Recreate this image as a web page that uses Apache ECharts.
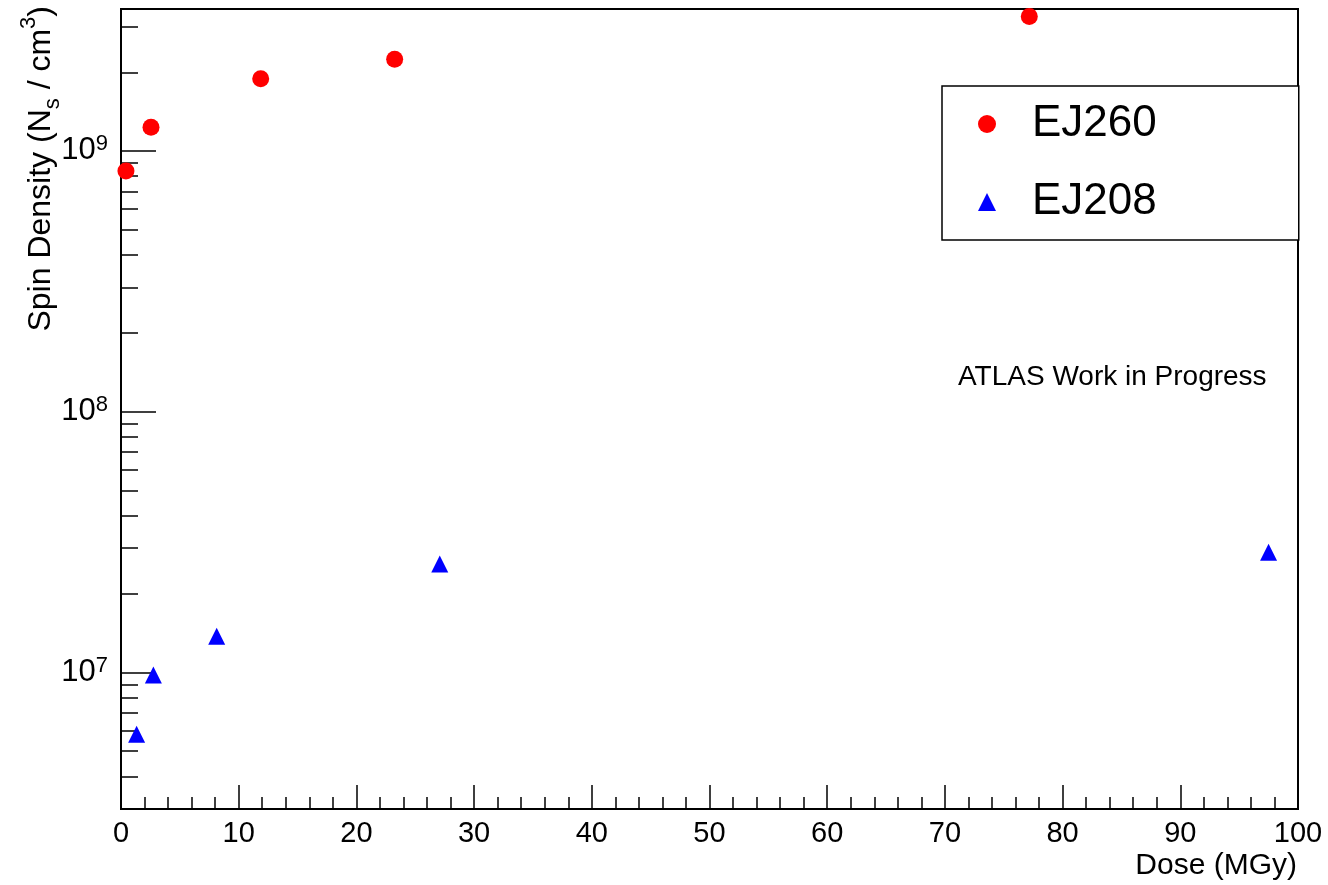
<!DOCTYPE html>
<html><head><meta charset="utf-8">
<script src="https://cdn.jsdelivr.net/npm/echarts@6/dist/echarts.min.js"></script>
<style>html,body{margin:0;padding:0;background:#fff}#c{width:1328px;height:885px}</style>
</head><body><div id="c"></div>
<script>
// ---- data ----
const seriesNames = ['EJ260', 'EJ208'];
const ej260Dose = [0.42, 2.55, 11.87, 23.25, 77.17];
const ej260Spin = [8.38e8, 1.233e9, 1.889e9, 2.247e9, 3.275e9];
const ej208Dose = [1.33, 2.75, 8.13, 27.08, 97.5];
const ej208Spin = [5.80e6, 9.80e6, 1.377e7, 2.61e7, 2.896e7];
const xTickLabels = [0, 10, 20, 30, 40, 50, 60, 70, 80, 90, 100];
const yMajorTicks = [1e7, 1e8, 1e9];
const yMinorTicks = [4e6, 5e6, 6e6, 7e6, 8e6, 9e6,
  2e7, 3e7, 4e7, 5e7, 6e7, 7e7, 8e7, 9e7,
  2e8, 3e8, 4e8, 5e8, 6e8, 7e8, 8e8, 9e8,
  2e9, 3e9];
const xTitle = 'Dose (MGy)';
const annotation = 'ATLAS Work in Progress';

const FONT = '"Liberation Sans", Arial, Helvetica, sans-serif';
const chart = echarts.init(document.getElementById('c'), null, {renderer: 'canvas'});

const toPairs = (xs, ys) => xs.map((x, i) => [x, ys[i]]);

chart.setOption({
  animation: false,
  backgroundColor: '#fff',
  textStyle: {fontFamily: FONT},
  grid: {left: 121, right: 30, top: 9, bottom: 76, show: true, borderColor: '#000', borderWidth: 2},
  xAxis: {
    type: 'value', min: xTickLabels[0], max: xTickLabels[xTickLabels.length - 1], interval: 10,
    axisLine: {show: true, onZero: false, lineStyle: {color: '#000', width: 2}},
    axisTick: {show: true, inside: true, length: 24, lineStyle: {color: '#000', width: 1.5}},
    minorTick: {show: true, splitNumber: 5, length: 12, lineStyle: {color: '#000', width: 1.5}},
    splitLine: {show: false},
    axisLabel: {fontSize: 29, color: '#000', margin: 10, fontFamily: FONT, showMinLabel: true, showMaxLabel: true}
  },
  yAxis: [{
    type: 'log', logBase: 10, min: 3e6, max: 3.5e9,
    axisLine: {show: true, onZero: false, lineStyle: {color: '#000', width: 2}},
    axisTick: {show: true, inside: true, length: 35, customValues: yMajorTicks, lineStyle: {color: '#000', width: 1.5}},
    splitLine: {show: false},
    axisLabel: {
      customValues: yMajorTicks, margin: 13, color: '#000',
      formatter: v => '{b|10}{s|' + Math.round(Math.log10(v)) + '}',
      rich: {
        b: {fontSize: 31, lineHeight: 36, fontFamily: FONT, color: '#000', verticalAlign: 'middle'},
        s: {fontSize: 22, lineHeight: 22, fontFamily: FONT, color: '#000', verticalAlign: 'top'}
      }
    }
  }, {
    type: 'log', logBase: 10, min: 3e6, max: 3.5e9, position: 'left',
    axisLine: {show: false},
    axisTick: {show: true, inside: true, length: 17, customValues: yMinorTicks, lineStyle: {color: '#000', width: 1.5}},
    splitLine: {show: false},
    axisLabel: {show: false}
  }],
  legend: {
    orient: 'vertical', left: 942, top: 86,
    padding: [13, 142, 13, 36], itemGap: 28, itemWidth: 18, itemHeight: 18,
    borderColor: '#000', borderWidth: 1.5, backgroundColor: '#fff',
    textStyle: {fontSize: 44, lineHeight: 44, color: '#000', fontFamily: FONT, padding: [6, 0, 0, 31]},
    data: [{name: seriesNames[0], icon: 'circle'}, {name: seriesNames[1], icon: 'triangle'}]
  },
  series: [{
    name: seriesNames[0], type: 'scatter', yAxisIndex: 0, symbol: 'circle', symbolSize: 17,
    itemStyle: {color: '#ff0000', opacity: 1}, data: toPairs(ej260Dose, ej260Spin)
  }, {
    name: seriesNames[1], type: 'scatter', yAxisIndex: 0, symbol: 'triangle', symbolSize: 17,
    itemStyle: {color: '#0000ff', opacity: 1}, data: toPairs(ej208Dose, ej208Spin)
  }],
  graphic: [{
    type: 'text', x: 958, y: 377,
    style: {text: annotation, font: '28px ' + FONT, fill: '#000', textAlign: 'left', textVerticalAlign: 'middle'}
  }, {
    type: 'text', x: 1297, y: 866,
    style: {text: xTitle, font: '30px ' + FONT, fill: '#000', textAlign: 'right', textVerticalAlign: 'middle'}
  }, {
    type: 'text', x: 41, y: 6, rotation: Math.PI / 2,
    style: {
      text: '{a|Spin Density (N}{b|s}{a| / cm}{c|3}{a|)}',
      textAlign: 'right', textVerticalAlign: 'middle', fill: '#000',
      rich: {
        a: {fontSize: 32, lineHeight: 46, fontFamily: FONT, fill: '#000', verticalAlign: 'middle'},
        b: {fontSize: 22, lineHeight: 22, fontFamily: FONT, fill: '#000', verticalAlign: 'bottom'},
        c: {fontSize: 22, lineHeight: 22, fontFamily: FONT, fill: '#000', verticalAlign: 'top'}
      }
    }
  }]
});
</script></body></html>
